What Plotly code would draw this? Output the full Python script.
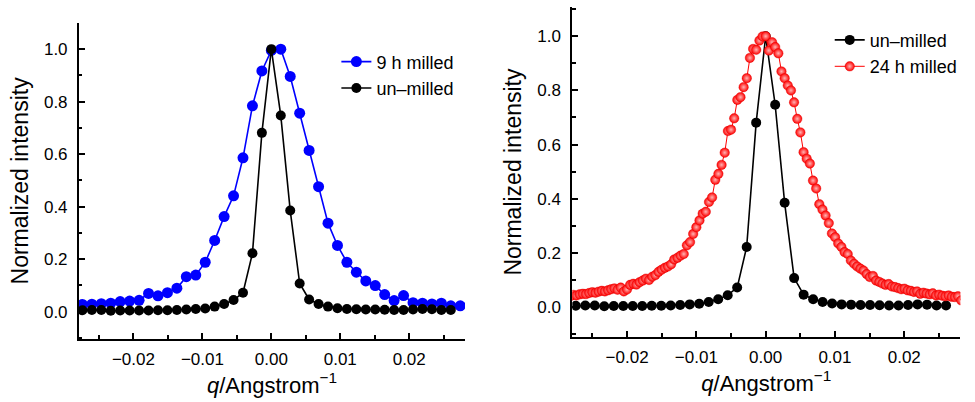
import plotly.graph_objects as go

# ---------------- data ----------------
# q grid (Angstrom^-1) for the un-milled and 9 h milled scans
q_grid = [-0.0274, -0.02603, -0.02466, -0.02329, -0.02192, -0.02055, -0.01918, -0.01781,
          -0.01644, -0.01507, -0.0137, -0.01233, -0.01096, -0.00959, -0.00822, -0.00685,
          -0.00548, -0.00411, -0.00274, -0.00137, 0.0, 0.00137, 0.00274, 0.00411,
          0.00548, 0.00685, 0.00822, 0.00959, 0.01096, 0.01233, 0.0137, 0.01507,
          0.01644, 0.01781, 0.01918, 0.02055, 0.02192, 0.02329, 0.02466, 0.02603,
          0.0274, 0.02877]

q_unmilled = q_grid[:40]
i_unmilled = [0.005, 0.006, 0.006, 0.003, 0.004, 0.004, 0.004, 0.004, 0.005, 0.005,
              0.006, 0.008, 0.010, 0.012, 0.019, 0.029, 0.044, 0.072, 0.222, 0.681,
              1.000, 0.747, 0.385, 0.107, 0.046, 0.029, 0.019, 0.013, 0.010, 0.009,
              0.008, 0.008, 0.007, 0.006, 0.006, 0.008, 0.010, 0.009, 0.006, 0.006]

q_9h = q_grid
i_9h = [0.027, 0.028, 0.030, 0.032, 0.038, 0.040, 0.043, 0.069, 0.060, 0.072,
        0.089, 0.133, 0.139, 0.188, 0.271, 0.362, 0.441, 0.586, 0.784, 0.917,
        0.995, 1.000, 0.896, 0.756, 0.614, 0.476, 0.337, 0.252, 0.188, 0.150,
        0.117, 0.099, 0.065, 0.042, 0.061, 0.034, 0.032, 0.029, 0.032, 0.022,
        0.022, 0.022]

q_24h = [-0.0282, -0.02775, -0.02729, -0.02684, -0.02638, -0.02593, -0.02547, -0.02502,
         -0.02456, -0.02411, -0.02365, -0.0232, -0.02274, -0.02229, -0.02183, -0.02138,
         -0.02092, -0.02047, -0.02001, -0.01956, -0.0191, -0.01865, -0.01819, -0.01774,
         -0.01728, -0.01683, -0.01637, -0.01592, -0.01546, -0.01501, -0.01455, -0.0141,
         -0.01364, -0.01319, -0.01273, -0.01228, -0.01182, -0.01137, -0.01091, -0.01046,
         -0.01, -0.00955, -0.00909, -0.00864, -0.00818, -0.00773, -0.00727, -0.00682,
         -0.00636, -0.00591, -0.00545, -0.005, -0.00454, -0.00409, -0.00363, -0.00318,
         -0.00272, -0.00227, -0.00181, -0.00136, -0.0009, -0.00045, 0.00001, 0.00046,
         0.00092, 0.00137, 0.00183, 0.00228, 0.00274, 0.00319, 0.00365, 0.0041,
         0.00456, 0.00501, 0.00547, 0.00592, 0.00638, 0.00683, 0.00729, 0.00774,
         0.0082, 0.00865, 0.00911, 0.00956, 0.01002, 0.01047, 0.01093, 0.01138,
         0.01184, 0.01229, 0.01275, 0.0132, 0.01366, 0.01411, 0.01457, 0.01502,
         0.01548, 0.01593, 0.01639, 0.01684, 0.0173, 0.01775, 0.01821, 0.01866,
         0.01912, 0.01957, 0.02003, 0.02048, 0.02094, 0.02139, 0.02185, 0.0223,
         0.02276, 0.02321, 0.02367, 0.02412, 0.02458, 0.02503, 0.02549, 0.02594,
         0.0264, 0.02685, 0.02731, 0.02776, 0.02822]
i_24h = [0.040, 0.045, 0.043, 0.047, 0.049, 0.048, 0.052, 0.055, 0.053, 0.057,
         0.060, 0.058, 0.062, 0.066, 0.069, 0.064, 0.072, 0.058, 0.065, 0.082,
         0.086, 0.083, 0.092, 0.098, 0.105, 0.100, 0.112, 0.118, 0.130, 0.138,
         0.145, 0.150, 0.158, 0.176, 0.182, 0.190, 0.196, 0.228, 0.240, 0.270,
         0.295, 0.320, 0.345, 0.352, 0.388, 0.405, 0.470, 0.492, 0.525, 0.570,
         0.650, 0.655, 0.697, 0.765, 0.775, 0.812, 0.845, 0.920, 0.953, 0.950,
         0.984, 0.999, 1.000, 0.947, 0.978, 0.960, 0.937, 0.870, 0.845, 0.818,
         0.800, 0.756, 0.695, 0.645, 0.572, 0.548, 0.530, 0.467, 0.438, 0.380,
         0.360, 0.338, 0.310, 0.272, 0.258, 0.235, 0.222, 0.203, 0.196, 0.172,
         0.160, 0.150, 0.142, 0.135, 0.122, 0.111, 0.115, 0.098, 0.093, 0.087,
         0.082, 0.085, 0.076, 0.074, 0.070, 0.066, 0.068, 0.062, 0.060, 0.056,
         0.058, 0.049, 0.053, 0.050, 0.047, 0.051, 0.043, 0.046, 0.042, 0.040,
         0.043, 0.038, 0.037, 0.040, 0.025]

x_ticks = [-0.02, -0.01, 0.0, 0.01, 0.02]
x_ticklabels = ["\u22120.02", "\u22120.01", "0.00", "0.01", "0.02"]
y_ticks = [0.0, 0.2, 0.4, 0.6, 0.8, 1.0]
y_ticklabels = ["0.0", "0.2", "0.4", "0.6", "0.8", "1.0"]

# ---------------- figure ----------------
FONT = "Liberation Sans, Arial, Helvetica, sans-serif"
fig = go.Figure()

fig.add_trace(go.Scatter(x=q_9h, y=i_9h, mode="lines+markers", name="9 h milled",
                         line=dict(color="#0000ff", width=1.6),
                         marker=dict(color="#0000ff", size=11),
                         xaxis="x", yaxis="y", legend="legend"))
fig.add_trace(go.Scatter(x=q_unmilled, y=i_unmilled, mode="lines+markers", name="un\u2013milled",
                         line=dict(color="#000000", width=1.6),
                         marker=dict(color="#000000", size=10),
                         xaxis="x", yaxis="y", legend="legend"))

fig.add_trace(go.Scatter(x=q_unmilled, y=i_unmilled, mode="lines+markers", name="un\u2013milled",
                         line=dict(color="#000000", width=1.6),
                         marker=dict(color="#000000", size=10),
                         xaxis="x2", yaxis="y2", legend="legend2"))
fig.add_trace(go.Scatter(x=q_24h, y=i_24h, mode="lines+markers", name="24 h milled",
                         line=dict(color="#ff0000", width=1),
                         marker=dict(color="#ff0000", size=9.5,
                                     gradient=dict(type="radial", color="#ffb4b4"),
                                     line=dict(color="#e00000", width=0.4)),
                         xaxis="x2", yaxis="y2", legend="legend2"))

def xaxis(domain, anchor):
    return dict(domain=domain, anchor=anchor, range=[-0.0279, 0.0281],
                tickvals=x_ticks, ticktext=x_ticklabels,
                showline=True, linewidth=2, linecolor="black",
                ticks="inside", ticklen=6, tickwidth=2, tickcolor="black",
                minor=dict(dtick=0.005, tick0=0, ticks="inside", ticklen=3.5,
                           tickwidth=2, tickcolor="black"),
                showgrid=False, zeroline=False,
                tickfont=dict(size=17, family=FONT, color="black"),
                ticklabelstandoff=4,
                title=dict(text="<i>q</i>/Angstrom<sup>\u22121</sup>",
                           font=dict(size=22, family=FONT, color="black"), standoff=6))

def yaxis(domain, anchor, rng):
    return dict(domain=domain, anchor=anchor, range=rng,
                tickvals=y_ticks, ticktext=y_ticklabels,
                showline=True, linewidth=2, linecolor="black",
                ticks="inside", ticklen=6, tickwidth=2, tickcolor="black",
                minor=dict(dtick=0.1, tick0=0, ticks="inside", ticklen=3.5,
                           tickwidth=2, tickcolor="black"),
                showgrid=False, zeroline=False,
                tickfont=dict(size=17, family=FONT, color="black"),
                ticklabelstandoff=6,
                title=dict(text="Normalized intensity",
                           font=dict(size=23, family=FONT, color="black"), standoff=9))

fig.update_layout(
    width=975, height=402,
    margin=dict(l=0, r=0, t=0, b=0),
    paper_bgcolor="white", plot_bgcolor="white",
    font=dict(family=FONT, color="black"),
    xaxis=xaxis([0.081, 0.477], "y"),
    yaxis=yaxis([0.157, 0.943], "x", [-0.104, 1.1]),
    xaxis2=xaxis([0.587, 0.985], "y2"),
    yaxis2=yaxis([0.162, 0.982], "x2", [-0.11, 1.107]),
    legend=dict(x=0.345, y=0.892, xanchor="left", yanchor="top",
                bgcolor="rgba(0,0,0,0)", font=dict(size=18, family=FONT, color="black"),
                tracegroupgap=0, itemwidth=30),
    legend2=dict(x=0.851, y=0.946, xanchor="left", yanchor="top",
                 bgcolor="rgba(0,0,0,0)", font=dict(size=18, family=FONT, color="black"),
                 tracegroupgap=0, itemwidth=30),
    showlegend=True,
)

fig.write_html("out.html")
